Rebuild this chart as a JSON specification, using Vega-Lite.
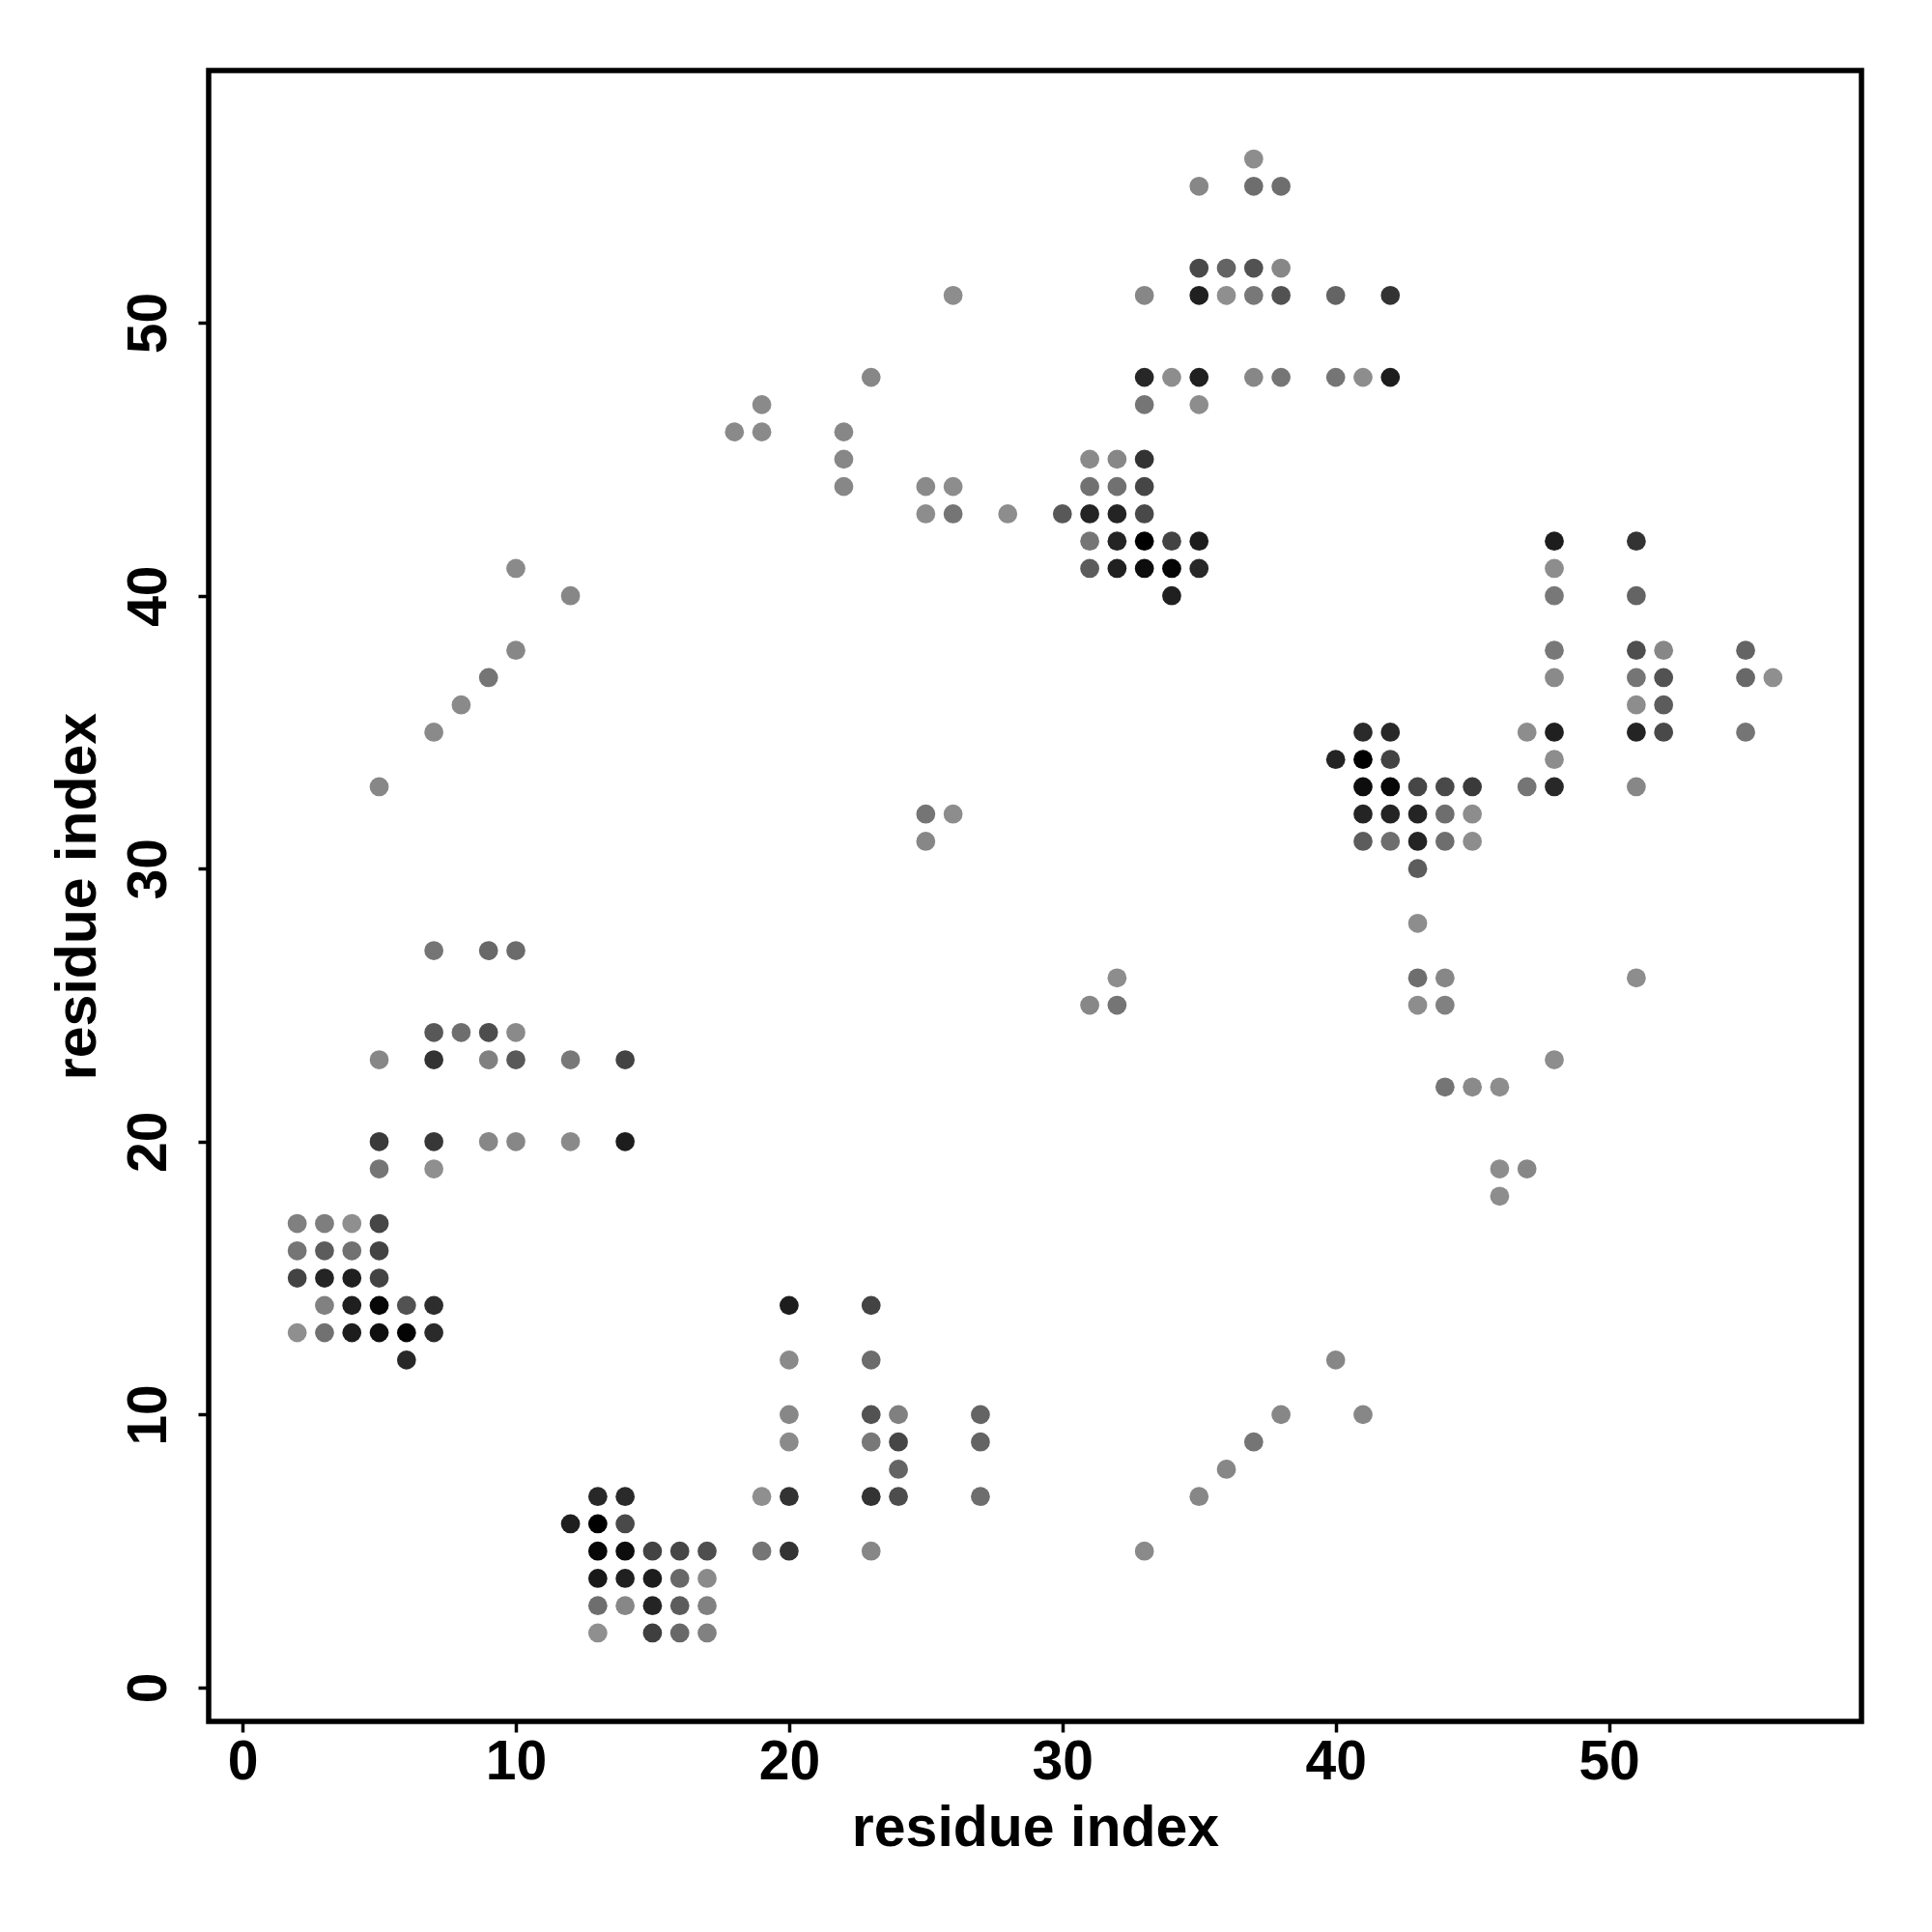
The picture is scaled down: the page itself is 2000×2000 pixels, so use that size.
{
  "$schema": "https://vega.github.io/schema/vega-lite/v6.json",
  "autosize": {"type": "none"},
  "padding": {"left": 216, "top": 73, "right": 73, "bottom": 218},
  "width": 1711,
  "height": 1709,
  "background": "white",
  "config": {"view": {"stroke": "black", "strokeWidth": 5.5}, "font": "Liberation Sans"},
  "data": {"values": [
    {"i":7,"j":27,"p":0.17},{"i":9,"j":27,"p":0.26},{"i":10,"j":27,"p":0.24},
    {"i":7,"j":24,"p":0.37},{"i":8,"j":24,"p":0.22},{"i":9,"j":24,"p":0.45},{"i":10,"j":24,"p":0.03},
    {"i":5,"j":23,"p":0.05},{"i":7,"j":23,"p":0.64},{"i":9,"j":23,"p":0.1},{"i":10,"j":23,"p":0.36},{"i":12,"j":23,"p":0.15},{"i":14,"j":23,"p":0.52},
    {"i":5,"j":20,"p":0.59},{"i":7,"j":20,"p":0.61},{"i":9,"j":20,"p":0.05},{"i":10,"j":20,"p":0.05},{"i":12,"j":20,"p":0.03},{"i":14,"j":20,"p":0.82},
    {"i":5,"j":19,"p":0.17},{"i":7,"j":19,"p":0.0},
    {"i":2,"j":17,"p":0.1},{"i":3,"j":17,"p":0.11},{"i":4,"j":17,"p":0.0},{"i":5,"j":17,"p":0.5},
    {"i":2,"j":16,"p":0.17},{"i":3,"j":16,"p":0.34},{"i":4,"j":16,"p":0.2},{"i":5,"j":16,"p":0.52},
    {"i":2,"j":15,"p":0.52},{"i":3,"j":15,"p":0.76},{"i":4,"j":15,"p":0.8},{"i":5,"j":15,"p":0.52},
    {"i":3,"j":14,"p":0.09},{"i":4,"j":14,"p":0.8},{"i":5,"j":14,"p":0.97},{"i":6,"j":14,"p":0.41},{"i":7,"j":14,"p":0.69},
    {"i":2,"j":13,"p":0.0},{"i":3,"j":13,"p":0.2},{"i":4,"j":13,"p":0.82},{"i":5,"j":13,"p":0.93},{"i":6,"j":13,"p":0.98},{"i":7,"j":13,"p":0.71},
    {"i":6,"j":12,"p":0.74},
    {"i":5,"j":33,"p":0.05},{"i":7,"j":35,"p":0.03},{"i":8,"j":36,"p":0.03},{"i":9,"j":37,"p":0.17},{"i":10,"j":38,"p":0.05},{"i":10,"j":41,"p":0.03},{"i":12,"j":40,"p":0.05},
    {"i":13,"j":7,"p":0.73},{"i":14,"j":7,"p":0.71},{"i":19,"j":7,"p":0.0},{"i":20,"j":7,"p":0.64},{"i":23,"j":7,"p":0.64},{"i":24,"j":7,"p":0.45},{"i":27,"j":7,"p":0.22},{"i":35,"j":7,"p":0.05},
    {"i":12,"j":6,"p":0.8},{"i":13,"j":6,"p":1.0},{"i":14,"j":6,"p":0.48},
    {"i":13,"j":5,"p":0.97},{"i":14,"j":5,"p":0.94},{"i":15,"j":5,"p":0.52},{"i":16,"j":5,"p":0.5},{"i":17,"j":5,"p":0.44},{"i":19,"j":5,"p":0.17},{"i":20,"j":5,"p":0.64},{"i":23,"j":5,"p":0.05},{"i":33,"j":5,"p":0.03},
    {"i":13,"j":4,"p":0.85},{"i":14,"j":4,"p":0.79},{"i":15,"j":4,"p":0.82},{"i":16,"j":4,"p":0.26},{"i":17,"j":4,"p":0.03},
    {"i":13,"j":3,"p":0.22},{"i":14,"j":3,"p":0.05},{"i":15,"j":3,"p":0.76},{"i":16,"j":3,"p":0.34},{"i":17,"j":3,"p":0.09},
    {"i":13,"j":2,"p":0.0},{"i":15,"j":2,"p":0.55},{"i":16,"j":2,"p":0.26},{"i":17,"j":2,"p":0.09},
    {"i":20,"j":14,"p":0.82},{"i":23,"j":14,"p":0.52},
    {"i":20,"j":12,"p":0.03},{"i":23,"j":12,"p":0.23},
    {"i":20,"j":10,"p":0.05},{"i":23,"j":10,"p":0.41},{"i":24,"j":10,"p":0.1},{"i":27,"j":10,"p":0.29},{"i":38,"j":10,"p":0.05},
    {"i":20,"j":9,"p":0.03},{"i":23,"j":9,"p":0.15},{"i":24,"j":9,"p":0.5},{"i":27,"j":9,"p":0.29},{"i":37,"j":9,"p":0.17},
    {"i":24,"j":8,"p":0.29},{"i":36,"j":8,"p":0.05},
    {"i":40,"j":12,"p":0.05},{"i":41,"j":10,"p":0.05},
    {"i":31,"j":25,"p":0.05},{"i":32,"j":25,"p":0.17},{"i":32,"j":26,"p":0.01},
    {"i":25,"j":32,"p":0.17},{"i":26,"j":32,"p":0.01},{"i":25,"j":31,"p":0.05},
    {"i":43,"j":28,"p":0.01},{"i":43,"j":26,"p":0.22},{"i":44,"j":26,"p":0.05},{"i":51,"j":26,"p":0.01},{"i":43,"j":25,"p":0.01},{"i":44,"j":25,"p":0.09},
    {"i":48,"j":23,"p":0.01},{"i":44,"j":22,"p":0.17},{"i":45,"j":22,"p":0.03},{"i":46,"j":22,"p":0.01},{"i":46,"j":19,"p":0.01},{"i":47,"j":19,"p":0.05},{"i":46,"j":18,"p":0.01},
    {"i":41,"j":35,"p":0.71},{"i":42,"j":35,"p":0.73},
    {"i":40,"j":34,"p":0.76},{"i":41,"j":34,"p":1.0},{"i":42,"j":34,"p":0.52},
    {"i":41,"j":33,"p":0.94},{"i":42,"j":33,"p":0.97},{"i":43,"j":33,"p":0.5},{"i":44,"j":33,"p":0.48},{"i":45,"j":33,"p":0.59},
    {"i":41,"j":32,"p":0.76},{"i":42,"j":32,"p":0.76},{"i":43,"j":32,"p":0.76},{"i":44,"j":32,"p":0.22},{"i":45,"j":32,"p":0.01},
    {"i":41,"j":31,"p":0.34},{"i":42,"j":31,"p":0.22},{"i":43,"j":31,"p":0.76},{"i":44,"j":31,"p":0.22},{"i":45,"j":31,"p":0.01},
    {"i":43,"j":30,"p":0.34},
    {"i":48,"j":42,"p":0.82},{"i":51,"j":42,"p":0.64},
    {"i":48,"j":41,"p":0.01},
    {"i":48,"j":40,"p":0.15},{"i":51,"j":40,"p":0.29},
    {"i":48,"j":38,"p":0.15},{"i":51,"j":38,"p":0.44},{"i":52,"j":38,"p":0.05},{"i":55,"j":38,"p":0.29},
    {"i":48,"j":37,"p":0.03},{"i":51,"j":37,"p":0.17},{"i":52,"j":37,"p":0.41},{"i":55,"j":37,"p":0.26},{"i":56,"j":37,"p":0.0},
    {"i":51,"j":36,"p":0.01},{"i":52,"j":36,"p":0.34},
    {"i":47,"j":35,"p":0.01},{"i":48,"j":35,"p":0.79},{"i":51,"j":35,"p":0.76},{"i":52,"j":35,"p":0.48},{"i":55,"j":35,"p":0.17},
    {"i":48,"j":34,"p":0.01},
    {"i":47,"j":33,"p":0.17},{"i":48,"j":33,"p":0.73},{"i":51,"j":33,"p":0.05},
    {"i":22,"j":45,"p":0.05},{"i":31,"j":45,"p":0.03},{"i":32,"j":45,"p":0.05},{"i":33,"j":45,"p":0.64},
    {"i":22,"j":44,"p":0.05},{"i":25,"j":44,"p":0.03},{"i":26,"j":44,"p":0.01},{"i":31,"j":44,"p":0.2},{"i":32,"j":44,"p":0.2},{"i":33,"j":44,"p":0.5},
    {"i":25,"j":43,"p":0.01},{"i":26,"j":43,"p":0.17},{"i":28,"j":43,"p":0.01},{"i":30,"j":43,"p":0.37},{"i":31,"j":43,"p":0.76},{"i":32,"j":43,"p":0.76},{"i":33,"j":43,"p":0.48},
    {"i":31,"j":42,"p":0.17},{"i":32,"j":42,"p":0.76},{"i":33,"j":42,"p":1.0},{"i":34,"j":42,"p":0.52},{"i":35,"j":42,"p":0.82},
    {"i":31,"j":41,"p":0.34},{"i":32,"j":41,"p":0.79},{"i":33,"j":41,"p":0.94},{"i":34,"j":41,"p":0.98},{"i":35,"j":41,"p":0.73},
    {"i":34,"j":40,"p":0.79},
    {"i":18,"j":46,"p":0.03},{"i":19,"j":46,"p":0.03},{"i":22,"j":46,"p":0.05},
    {"i":19,"j":47,"p":0.03},{"i":33,"j":47,"p":0.17},{"i":35,"j":47,"p":0.01},
    {"i":23,"j":48,"p":0.05},{"i":33,"j":48,"p":0.74},{"i":34,"j":48,"p":0.01},{"i":35,"j":48,"p":0.79},{"i":37,"j":48,"p":0.05},{"i":38,"j":48,"p":0.17},{"i":40,"j":48,"p":0.17},{"i":41,"j":48,"p":0.01},{"i":42,"j":48,"p":0.82},
    {"i":26,"j":51,"p":0.01},{"i":33,"j":51,"p":0.05},{"i":35,"j":51,"p":0.79},{"i":36,"j":51,"p":0.0},{"i":37,"j":51,"p":0.15},{"i":38,"j":51,"p":0.41},{"i":40,"j":51,"p":0.29},{"i":42,"j":51,"p":0.64},
    {"i":35,"j":52,"p":0.48},{"i":36,"j":52,"p":0.29},{"i":37,"j":52,"p":0.41},{"i":38,"j":52,"p":0.05},
    {"i":35,"j":55,"p":0.05},{"i":37,"j":55,"p":0.22},{"i":38,"j":55,"p":0.22},
    {"i":37,"j":56,"p":0.01}
  ]},
  "mark": {"type": "circle", "size": 390, "opacity": 1},
  "encoding": {
    "x": {
      "field": "i", "type": "quantitative",
      "scale": {"domain": [-1.24, 59.24], "nice": false, "zero": false},
      "axis": {
        "title": "residue index", "values": [0, 10, 20, 30, 40, 50],
        "domain": false, "grid": false, "tickSize": 11, "tickWidth": 3.5, "tickColor": "black",
        "labelFont": "Liberation Sans", "labelFontWeight": "bold", "labelFontSize": 57, "labelColor": "black",
        "labelPadding": 3, "labelBaseline": "top", "labelFlush": false, "labelOverlap": false,
        "titleFont": "Liberation Sans", "titleFontWeight": "bold", "titleFontSize": 59, "titleColor": "black",
        "titleBaseline": "alphabetic", "titleAlign": "center", "titleX": 855.5, "titleY": 128
      }
    },
    "y": {
      "field": "j", "type": "quantitative",
      "scale": {"domain": [-1.24, 59.24], "nice": false, "zero": false},
      "axis": {
        "title": "residue index", "values": [0, 10, 20, 30, 40, 50],
        "domain": false, "grid": false, "tickSize": 11, "tickWidth": 3.5, "tickColor": "black",
        "labelFont": "Liberation Sans", "labelFontWeight": "bold", "labelFontSize": 57, "labelColor": "black",
        "labelAngle": -90, "labelAlign": "center", "labelBaseline": "alphabetic", "labelPadding": 34,
        "labelFlush": false, "labelOverlap": false,
        "titleFont": "Liberation Sans", "titleFontWeight": "bold", "titleFontSize": 59, "titleColor": "black",
        "titleAngle": -90, "titleBaseline": "alphabetic", "titleAlign": "center", "titleX": -118, "titleY": 854.5
      }
    },
    "color": {
      "field": "p", "type": "quantitative",
      "scale": {"domain": [0, 1], "range": ["#8f8f8f", "#000000"]},
      "legend": null
    }
  }
}
